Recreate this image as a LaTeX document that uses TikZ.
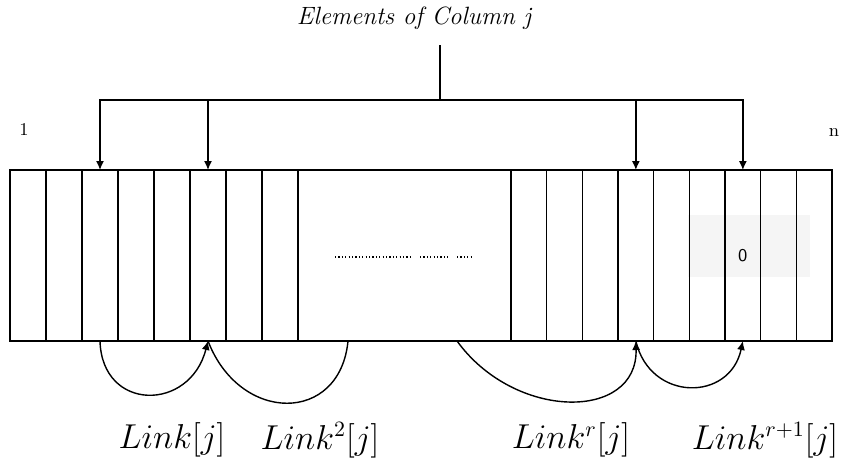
\documentclass[tikz,border=0pt]{standalone}
\usepackage{tikz}
\usetikzlibrary{arrows.meta,positioning,calc}
\begin{document}
\begin{tikzpicture}[x=0.5pt,y=-0.5pt,
  cell/.style={draw, line width=0.6pt, minimum width=18pt, minimum height=85.5pt,
               inner sep=0pt, outer sep=0pt},
  cellr/.style={cell, minimum width=17.83pt},
  link/.style={line width=0.7pt},
  tip/.style={-{Latex[length=4.5pt,width=4pt]}},
  lbl/.style={font=\fontsize{16}{19}\selectfont}
]
\useasboundingbox (0,0) rectangle (849,466);
\fill[black!4] (688,215) rectangle (810,277);
\foreach \i in {1,...,8}
  \node[cell] (c\i) at ({10+36*(\i-0.5)},255.5) {};
\foreach \i in {1,...,9}
  \node[cellr] (d\i) at ({511+35.67*(\i-0.5)},255.5) {};
\draw[line width=0.6pt] (c8.north east) -- (d1.north west) (c8.south east) -- (d1.south west);
\node[font=\sffamily\fontsize{9}{10}\selectfont] (zero) at (d7) {0};
\draw[line width=0.6pt, dash pattern=on 0.6pt off 1.1pt] (335,257) -- (413,257) (420,257) -- (450,257) (457,257) -- (472,257);
\node[font=\fontsize{9}{10}\selectfont] (first) at (24,130) {1};
\node[font=\fontsize{9}{10}\selectfont] (last) at (834,133) {n};

\node[font=\itshape\fontsize{12.5}{15}\selectfont] (title) at (414,18) {Elements of Column j};
\coordinate (stemtop) at (440,45);
\coordinate (bar) at (440,100);
\draw[link] (stemtop) -- (bar);
\draw[link,tip] (bar) -| (c3.north);
\draw[link,tip] (bar) -| (c6.north);
\draw[link,tip] (bar) -| (d4.north);
\draw[link,tip] (bar) -| (d7.north);

\coordinate (gapa) at (348,341);
\coordinate (gapb) at (457,341);
\draw[link,tip] (c3.south) .. controls (102,412) and (190,412) .. (c6.south);
\draw[link] (c6.south) .. controls (240,424) and (340,424) .. (gapa);
\draw[link,tip] (gapb) .. controls (515,421) and (638,421) .. (d4.south);
\draw[link,tip] (d4.south) .. controls (650,402) and (730,402) .. (d7.south);

\node[lbl] (l1) at (172,440) {$Link[j]$};
\node[lbl] (l2) at (320,440) {$Link^2[j]$};
\node[lbl] (l3) at (571,440) {$Link^r[j]$};
\node[lbl] (l4) at (765,440) {$Link^{r+1}[j]$};
\end{tikzpicture}
\end{document}
